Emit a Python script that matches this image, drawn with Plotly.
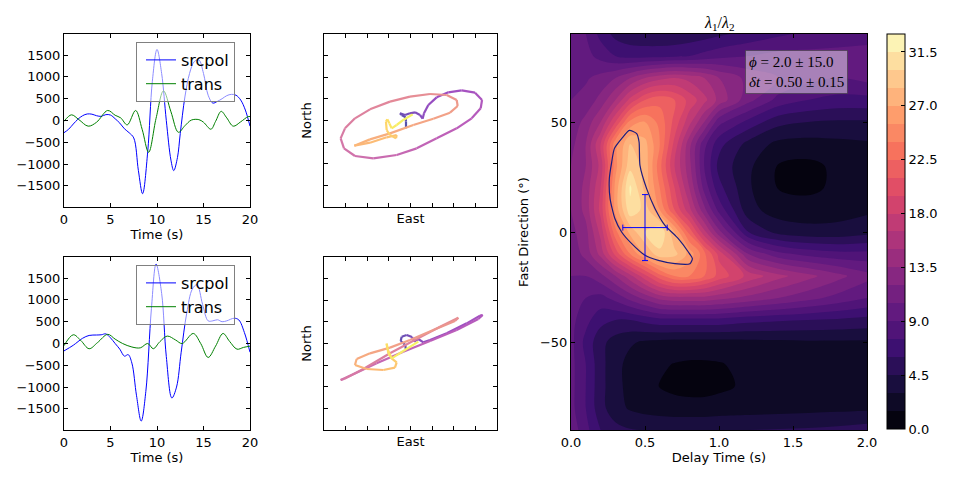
import plotly.graph_objects as go
from plotly.colors import sample_colorscale, sequential

# ---------------- waveform data (top: input, bottom: corrected) ----------------
t_src_top = [0, 0.5, 1, 1.5, 2, 2.5, 3, 3.5, 4, 4.5, 5, 5.5, 6, 6.5, 7, 7.5, 8, 8.45, 9, 9.5, 10,
             10.5, 11, 11.5, 11.8, 12.2, 12.5, 13, 13.5, 14, 14.5, 15, 15.5, 16, 16.5, 17, 17.5,
             18, 18.5, 19, 19.5, 20]
src_top = [-280, -200, -80, 30, 110, 150, 145, 110, 95, 135, 125, 40, -60, -190, -280, -400, -1150,
           -1680, -720, 900, 1630, 1080, 0, -910, -1150, -850, -300, 540, 1080, 1350, 1390, 1080,
           580, 400, 440, 500, 570, 600, 580, 470, 240, -130]
t_trn_top = [0, 0.8, 1.6, 2.6, 3.5, 4.7, 5.5, 6.1, 6.8, 7.7, 8.4, 9.1, 9.9, 10.7, 11.5, 12.3, 13.0,
             13.7, 14.5, 15.0, 15.8, 16.3, 16.9, 17.5, 18.2, 19.0, 19.8, 20.0]
trn_top = [-20, 130, 20, -130, -40, 230, 120, 60, -100, 230, -200, -730, 50, 680, 200, -270, -120,
           10, 20, -40, -200, -20, 210, 60, -130, -30, 90, 90]

t_src_bot = [0, 1, 2, 2.7, 3.5, 4.0, 4.5, 5.0, 5.5, 6.0, 6.5, 6.9, 7.3, 7.8, 8.3, 8.8, 9.4, 9.9,
             10.5, 11.0, 11.6, 12.1, 12.6, 13.2, 13.8, 14.3, 14.9, 15.5, 16.0, 16.5, 17.0, 17.5,
             18.3, 18.8, 19.4, 20.0]
src_bot = [-170, -40, 120, 185, 195, 200, 220, 130, 0, -130, -290, -255, -450, -1200, -1780, -1100,
           800, 1820, 1150, -300, -1250, -1000, -200, 700, 1250, 1350, 900, 520, 520, 545, 500, 520,
           580, 540, 250, -200]
t_trn_bot = [0, 1.0, 1.8, 2.7, 3.6, 4.7, 5.5, 6.3, 7.3, 8.2, 9.0, 9.6, 10.3, 11.1, 12.0, 12.7, 13.9,
             14.7, 15.5, 16.3, 17.1, 17.8, 18.6, 19.3, 20.0]
trn_bot = [-50, 200, 70, -120, 20, 210, 100, 0, -80, -100, 0, -120, 40, 170, 80, 0, 230, 0, -320,
           -60, 230, 50, -130, -90, -60]

# ---------------- particle motion (East, North) ----------------
pm_top_e = [-104, -104, -112, -204, -243, -127, -12, 104, 220, 281, 312, 412, 605, 875, 1183, 1492,
            1654, 1623, 1415, 1068, 605, 143, -320, -860, -1284, -1538, -1615, -1515, -1284, -937,
            -474, -12, 451, 837, 1068, 1091, 914, 528, 66, -474, -937, -1299, -937, -551, -320,
            -335, -474, -551, -567, -536, -490, -436, -320, -166, 50]
pm_top_n = [-181, -27, 73, 127, 166, 127, 166, 189, 127, 42, 166, 359, 536, 651, 698, 644, 474, 281,
            50, -181, -412, -644, -798, -875, -821, -644, -412, -181, 50, 258, 436, 551, 613, 590,
            474, 335, 181, 42, -104, -297, -436, -582, -513, -389, -335, -412, -335, -220, -27, 27,
            -66, -181, -104, 12, 143]
pm_bot_e = [-104, -120, -227, -204, -89, 35, 81, 181, 297, 451, 837, 1299, 1607, 1669, 1569, 1068,
            451, -166, -783, -1322, -1615, -1538, -1091, -474, 143, 682, 1106, 1029, 528, -12, -474,
            -937, -1245, -1284, -1014, -628, -359, -320, -436, -536, -551, -513, -436, -166, 181]
pm_bot_n = [-173, -35, 58, 158, 197, 150, 42, 104, 27, 81, 235, 466, 644, 659, 567, 312, 58, -189,
            -459, -713, -844, -821, -590, -227, 104, 389, 598, 520, 312, 81, -96, -227, -359, -497,
            -590, -613, -559, -436, -343, -112, -4, -227, -343, -173, 42]

# ---------------- lambda1/lambda2 error surface ----------------
delay = [0, 0.1, 0.2, 0.3, 0.4, 0.5, 0.6, 0.7, 0.8, 0.9, 1.0, 1.2, 1.4, 1.6, 1.8, 2.0]
fast = [-90, -80, -70, -60, -50, -40, -30, -20, -10, 0, 10, 20, 30, 40, 50, 60, 70, 80, 90]
lam_ratio = [
    [10, 8, 6, 5, 4.6, 4.5, 4.4, 4.3, 4.3, 4.3, 4.4, 4.5, 4.6, 4.7, 4.9, 5.2],            # -90
    [9.5, 7.5, 5, 3.6, 2.8, 2.4, 2.2, 2.1, 2.1, 2.1, 2.2, 2.3, 2.4, 2.5, 2.6, 2.7],       # -80
    [9.5, 7.5, 5, 3.5, 2.5, 1.9, 1.45, 1.1, 0.9, 0.9, 1.15, 1.8, 2, 2.1, 2.1, 2.2],       # -70
    [9.5, 7.5, 5, 3.5, 2.5, 2.1, 1.7, 1.45, 1.3, 1.3, 1.4, 1.9, 2.1, 2.2, 2.2, 2.3],      # -60
    [9.5, 7, 5, 3.8, 3.2, 2.8, 2.6, 2.5, 2.5, 2.5, 2.5, 2.6, 2.7, 2.8, 2.8, 2.8],         # -50
    [9.5, 8, 6.5, 6, 6, 6.5, 7, 7, 7, 7, 7, 6.5, 6.2, 6, 5.8, 5.5],                       # -40
    [10, 9, 8.5, 9.5, 11, 12.5, 14, 14.5, 14.5, 14.5, 14, 13, 12, 11, 10, 9],             # -30
    [10.5, 10.5, 11.5, 13.5, 16, 19, 22, 24, 24, 22.5, 20.5, 17.5, 15.5, 14, 12.5, 11],   # -20
    [11, 12.5, 15.5, 20, 24, 27, 29.5, 29, 26.5, 23, 19, 12, 9.5, 8.5, 8, 8],             # -10
    [11.5, 13, 17, 23.5, 27.5, 30, 31.5, 27, 22, 17, 12.5, 6, 4, 3.5, 3.5, 4],            # 0
    [12, 14, 18.5, 26, 31, 29.5, 25.5, 21, 17, 12.5, 8.5, 3.5, 2.3, 2.2, 2.4, 2.7],       # 10
    [12, 14, 18, 26, 31.8, 28, 24, 19.5, 15, 10, 6.5, 3.2, 1.45, 1.15, 1.8, 2.5],         # 20
    [12, 13.5, 17, 25, 29.5, 28, 23, 18, 14, 9, 5.5, 3.3, 1.4, 1.1, 1.8, 2.5],            # 30
    [11.5, 13.5, 18, 25, 28.5, 27.5, 24, 19, 14, 9.5, 6.5, 4, 2.6, 2.4, 2.6, 2.8],        # 40
    [11, 12.5, 15, 19.5, 24.5, 25.5, 23.5, 20.5, 17, 13.5, 9.5, 7, 5, 4.5, 4.3, 4.3],     # 50
    [10.5, 11, 12.5, 15, 18.5, 21, 22, 21, 19, 17, 14.5, 11, 8.5, 7.5, 7, 7],             # 60
    [10, 10.3, 11, 12, 13.5, 15, 16, 16.5, 16, 15, 13.5, 11.5, 10.5, 9.5, 9, 9.5],        # 70
    [10, 9.5, 8.5, 7.5, 7, 7, 7, 7.2, 7.5, 8, 8.5, 9, 9.5, 9.5, 9.5, 9.5],                # 80
    [10, 9, 7, 5.5, 5, 4.8, 4.8, 4.8, 5, 5.3, 5.7, 6.5, 7.2, 7.8, 8.2, 8.5],              # 90
]
# 95% confidence contour
conf_delay = [0.394, 0.444, 0.46, 0.466, 0.511, 0.568, 0.635, 0.703, 0.725, 0.793, 0.82, 0.804,
              0.703, 0.59, 0.5, 0.41, 0.342, 0.297, 0.264, 0.259, 0.275, 0.293, 0.342, 0.394]
conf_fast = [46.2, 44.7, 40.9, 30.3, 19.7, 10.6, 3.0, -1.5, -3, -9.1, -12.1, -14.4, -14.4, -12.9,
             -10.6, -5.3, 0, 6, 15.2, 24.2, 31.8, 37.9, 42.4, 46.2]
best_delay, best_delay_err = 0.50, 0.15
best_fast, best_fast_err = 2.0, 15.0
cbar_ticks = [0, 4.5, 9, 13.5, 18, 22.5, 27, 31.5]

# ---------------- styling helpers ----------------
FONT = "DejaVu Sans"
W, H = 960, 480


def px_x(p):
    return p / W


def px_y(p):
    return 1 - p / H


MAGMA11 = ["#000004", "#140e36", "#3b0f70", "#641a80", "#8c2981", "#b73779",
           "#de4968", "#f7705c", "#fe9f6d", "#fecf92", "#fcfdbf"]


def magma(f):
    f = min(max(f, 0.0), 1.0)
    s = f * 10
    i = min(int(s), 9)
    r = s - i
    a = MAGMA11[i]
    b = MAGMA11[i + 1]
    ca = [int(a[k:k + 2], 16) for k in (1, 3, 5)]
    cb = [int(b[k:k + 2], 16) for k in (1, 3, 5)]
    c = [round(ca[j] + (cb[j] - ca[j]) * r) for j in range(3)]
    return "rgb(%d,%d,%d)" % tuple(c)


lev_start, lev_end, lev_size, vmax = 1.5, 31.5, 1.5, 33.0
nb = 21
band_cols = [magma((0.75 + 1.5 * k) / vmax) for k in range(nb + 1)]
cscale = [[k / nb, band_cols[k]] for k in range(nb + 1)]
cbar_scale = []
for k in range(nb + 1):
    cbar_scale.append([k / (nb + 1), band_cols[k]])
    cbar_scale.append([(k + 1) / (nb + 1), band_cols[k]])


def blend(col, alpha=0.7):
    c = col.replace("rgb(", "").replace(")", "").split(",")
    c = [float(v) for v in c]
    c = [alpha * v + (1 - alpha) * 255 for v in c]
    return "rgb(%d,%d,%d)" % tuple(int(round(v)) for v in c)


fig = go.Figure()

# waveforms
for (ts, s, tt, tr, xa, ya, lg) in [
    (t_src_top, src_top, t_trn_top, trn_top, "x", "y", "legend"),
    (t_src_bot, src_bot, t_trn_bot, trn_bot, "x2", "y2", "legend2"),
]:
    fig.add_trace(go.Scatter(x=ts, y=s, mode="lines", name="srcpol",
                             line=dict(color="#0000ff", width=1, shape="spline", smoothing=1.0),
                             xaxis=xa, yaxis=ya, legend=lg))
    fig.add_trace(go.Scatter(x=tt, y=tr, mode="lines", name="trans",
                             line=dict(color="#008000", width=1, shape="spline", smoothing=1.0),
                             xaxis=xa, yaxis=ya, legend=lg))

# particle motion, coloured by time
for (pe, pn, xa, ya) in [(pm_top_e, pm_top_n, "x3", "y3"), (pm_bot_e, pm_bot_n, "x4", "y4")]:
    n = len(pe)
    cols = sample_colorscale(sequential.Plasma, [i / (n - 1) for i in range(n)])
    for i in range(n - 1):
        fig.add_trace(go.Scatter(x=pe[i:i + 2], y=pn[i:i + 2], mode="lines",
                                 line=dict(color=blend(cols[i]), width=2.2),
                                 showlegend=False, hoverinfo="skip", xaxis=xa, yaxis=ya))

# error surface
fig.add_trace(go.Contour(
    x=delay, y=fast, z=lam_ratio, xaxis="x5", yaxis="y5",
    autocontour=False,
    contours=dict(start=lev_start, end=lev_end, size=lev_size, coloring="fill", showlines=False),
    line=dict(width=0, smoothing=1.0),
    colorscale=cscale, showscale=False,
    showlegend=False,
))
# colour bar (discrete, 0 .. 33)
fig.add_trace(go.Scatter(
    x=[1.0], y=[0.0], mode="markers", xaxis="x5", yaxis="y5", hoverinfo="skip",
    marker=dict(size=1, opacity=0, color=[0], cmin=0, cmax=vmax, colorscale=cbar_scale,
                showscale=True,
                colorbar=dict(
                    x=px_x(887), xanchor="left", y=px_y(34), yanchor="top",
                    len=(429 - 34) / H, lenmode="fraction", thickness=18, thicknessmode="pixels",
                    outlinewidth=1, outlinecolor="black", xpad=0, ypad=0,
                    tickmode="array", tickvals=cbar_ticks,
                    ticktext=["%.1f" % v for v in cbar_ticks],
                    ticks="inside", ticklen=4, tickcolor="black",
                    tickfont=dict(family=FONT, size=13, color="black"),
                )),
    showlegend=False,
))
fig.add_trace(go.Scatter(x=conf_delay, y=conf_fast, mode="lines",
                         line=dict(color="#1c1c80", width=1.2, shape="spline", smoothing=0.6),
                         showlegend=False, xaxis="x5", yaxis="y5"))
fig.add_trace(go.Scatter(x=[best_delay], y=[best_fast], mode="markers",
                         marker=dict(size=1, color="#0000ff"),
                         error_x=dict(type="data", array=[best_delay_err], color="#0000ff",
                                      thickness=1, width=3),
                         error_y=dict(type="data", array=[best_fast_err], color="#0000ff",
                                      thickness=1, width=3),
                         showlegend=False, xaxis="x5", yaxis="y5"))

axis_common = dict(showline=True, linecolor="black", linewidth=1, mirror="ticks",
                   ticks="inside", ticklen=4, tickcolor="black", showgrid=False,
                   zeroline=False, automargin=False,
                   tickfont=dict(family=FONT, size=13, color="black"))
title_font = dict(family=FONT, size=13, color="black")

wave_x = [px_x(64), px_x(250)]
pm_x = [px_x(324), px_x(497)]
top_y = [px_y(207), px_y(34)]
bot_y = [px_y(430), px_y(257)]

legend_common = dict(xanchor="left", yanchor="top", bgcolor="rgba(255,255,255,0.55)",
                     bordercolor="#808080", borderwidth=1, indentation=4,
                     font=dict(family=FONT, size=16, color="black"))

layout = dict(
    width=W, height=H, margin=dict(l=0, r=0, t=0, b=0, autoexpand=False),
    paper_bgcolor="white", plot_bgcolor="white",
    font=dict(family=FONT, size=13, color="black"),
    xaxis=dict(domain=wave_x, anchor="y", range=[0, 20], dtick=5, tick0=0,
               title=dict(text="Time (s)", font=title_font, standoff=4), **axis_common),
    yaxis=dict(domain=top_y, anchor="x", range=[-1985, 1985], dtick=500, tick0=0, **axis_common),
    xaxis2=dict(domain=wave_x, anchor="y2", range=[0, 20], dtick=5, tick0=0,
                title=dict(text="Time (s)", font=title_font, standoff=4), **axis_common),
    yaxis2=dict(domain=bot_y, anchor="x2", range=[-1985, 1985], dtick=500, tick0=0, **axis_common),
    xaxis3=dict(domain=pm_x, anchor="y3", range=[-2000, 2000], dtick=500, tick0=0,
                showticklabels=False,
                title=dict(text="East", font=title_font, standoff=6), **axis_common),
    yaxis3=dict(domain=top_y, anchor="x3", range=[-2000, 2000], dtick=500, tick0=0,
                showticklabels=False,
                title=dict(text="North", font=title_font, standoff=8), **axis_common),
    xaxis4=dict(domain=pm_x, anchor="y4", range=[-2000, 2000], dtick=500, tick0=0,
                showticklabels=False,
                title=dict(text="East", font=title_font, standoff=6), **axis_common),
    yaxis4=dict(domain=bot_y, anchor="x4", range=[-2000, 2000], dtick=500, tick0=0,
                showticklabels=False,
                title=dict(text="North", font=title_font, standoff=8), **axis_common),
    xaxis5=dict(domain=[px_x(571), px_x(867)], anchor="y5", range=[0, 2], dtick=0.5, tick0=0,
                tickformat=".1f",
                title=dict(text="Delay Time (s)", font=title_font, standoff=4), **axis_common),
    yaxis5=dict(domain=[px_y(430), px_y(34)], anchor="x5", range=[-90, 90], dtick=50, tick0=0,
                title=dict(text="Fast Direction (°)", font=title_font, standoff=8), **axis_common),
    legend=dict(x=px_x(136), y=px_y(42), **legend_common),
    legend2=dict(x=px_x(136), y=px_y(265), **legend_common),
    annotations=[
        dict(text="<i>λ</i><sub>1</sub>/<i>λ</i><sub>2</sub>", xref="paper", yref="paper",
             x=px_x(719), y=px_y(23), xanchor="center", yanchor="middle", showarrow=False,
             font=dict(family="Liberation Serif", size=16, color="black")),
        dict(text="<i>ϕ</i> = 2.0 ± 15.0<br><i>δt</i> = 0.50 ± 0.15", xref="paper", yref="paper",
             x=px_x(745), y=px_y(50), xanchor="left", yanchor="top", showarrow=False,
             align="left", bgcolor="rgba(255,255,255,0.45)", bordercolor="rgba(60,60,60,0.6)",
             borderwidth=1, borderpad=3,
             font=dict(family="Liberation Serif", size=15, color="black")),
    ],
)
fig.update_layout(**layout)
fig.write_html("out.html")
